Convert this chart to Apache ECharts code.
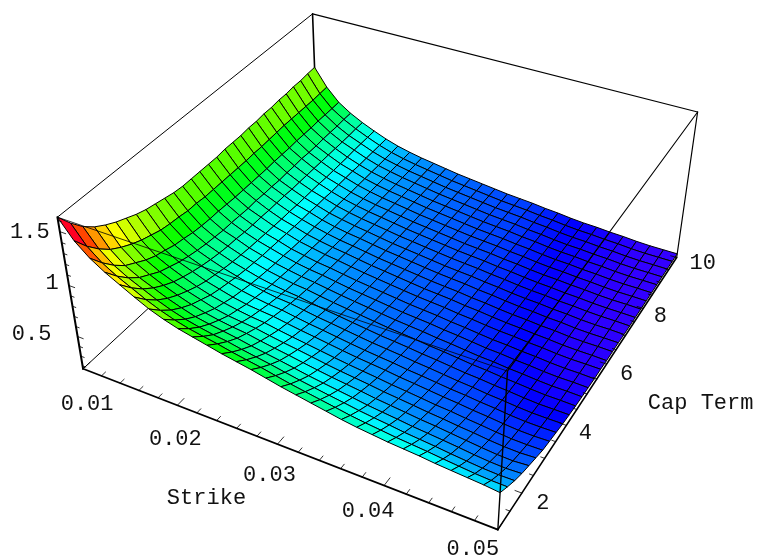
<!DOCTYPE html>
<html>
<head>
<meta charset="utf-8">
<style>html,body{margin:0;padding:0;background:#fff}#c{width:761px;height:558px}</style>
<script src="https://cdn.jsdelivr.net/npm/echarts@6/dist/echarts.min.js"></script>
</head>
<body>
<div id="c"></div>
<script>
const strikes = [.01,.01138,.01276,.01414,.01552,.0169,.01828,.01966,.02103,.02241,.02379,.02517,.02655,.02793,.02931,.03069,.03207,.03345,.03483,.03621,.03759,.03897,.04034,.04172,.0431,.04448,.04586,.04724,.04862,.05];
const terms = [1,1.31,1.62,1.93,2.24,2.55,2.86,3.17,3.48,3.79,4.1,4.41,4.72,5.03,5.34,5.66,5.97,6.28,6.59,6.9,7.21,7.52,7.83,8.14,8.45,8.76,9.07,9.38,9.69,10];
// one row per strike, one value per term
const surface = [
[1.63,1.50,1.39,1.31,1.25,1.20,1.16,1.12,1.09,1.07,1.05,1.03,1.02,1.02,1.02,1.02,1.02,1.03,1.03,1.03,1.04,1.04,1.05,1.05,1.06,1.06,1.07,1.07,1.08,1.085],
[1.46,1.33,1.225,1.14,1.08,1.03,.99,.96,.93,.915,.905,.89,.89,.88,.88,.88,.88,.88,.88,.885,.885,.89,.895,.90,.90,.90,.90,.90,.905,.91],
[1.345,1.22,1.115,1.03,.975,.92,.88,.855,.825,.81,.79,.78,.775,.775,.77,.765,.765,.765,.765,.765,.77,.77,.77,.775,.775,.775,.78,.78,.78,.783],
[1.26,1.14,1.04,.96,.905,.85,.815,.78,.755,.735,.72,.71,.70,.70,.695,.69,.695,.69,.69,.685,.69,.69,.695,.69,.69,.695,.695,.695,.70,.70],
[1.19,1.075,.98,.905,.845,.795,.76,.73,.705,.685,.67,.66,.655,.645,.64,.64,.635,.635,.635,.63,.63,.63,.63,.63,.63,.63,.63,.63,.635,.635],
[1.12,1.01,.92,.85,.795,.75,.71,.68,.66,.64,.625,.615,.605,.60,.595,.59,.585,.585,.58,.58,.58,.58,.575,.575,.575,.575,.58,.58,.58,.58],
[1.055,.955,.87,.805,.75,.71,.67,.645,.625,.605,.59,.58,.57,.565,.56,.555,.55,.545,.545,.54,.54,.535,.535,.535,.535,.53,.53,.53,.53,.53],
[1.005,.91,.83,.765,.715,.67,.64,.61,.59,.57,.555,.545,.535,.53,.52,.515,.51,.51,.505,.50,.50,.497,.495,.495,.493,.492,.49,.49,.49,.49],
[.965,.875,.80,.74,.69,.645,.615,.585,.565,.545,.53,.52,.51,.50,.495,.49,.483,.48,.475,.473,.47,.468,.466,.465,.463,.463,.462,.461,.46,.46],
[.935,.85,.775,.72,.67,.63,.595,.57,.545,.525,.51,.497,.487,.478,.47,.465,.46,.455,.452,.449,.446,.444,.441,.44,.439,.438,.437,.436,.435,.435],
[.905,.827,.758,.699,.655,.616,.582,.557,.533,.513,.496,.484,.471,.462,.454,.447,.442,.437,.435,.43,.427,.425,.422,.421,.42,.418,.417,.416,.415,.415],
[.875,.798,.731,.673,.63,.592,.558,.534,.51,.491,.474,.462,.45,.441,.433,.426,.421,.417,.414,.409,.407,.405,.402,.401,.40,.398,.397,.396,.395,.395],
[.85,.774,.708,.651,.608,.57,.537,.513,.489,.47,.453,.442,.43,.42,.413,.406,.401,.396,.394,.389,.387,.385,.382,.381,.38,.378,.377,.376,.375,.375],
[.825,.751,.686,.63,.588,.551,.518,.495,.472,.453,.437,.425,.413,.404,.397,.39,.386,.381,.379,.374,.372,.369,.367,.366,.365,.363,.362,.361,.36,.36],
[.795,.723,.66,.606,.565,.53,.498,.475,.453,.435,.419,.408,.397,.388,.381,.374,.37,.365,.363,.359,.356,.354,.352,.35,.35,.348,.347,.346,.345,.345],
[.765,.695,.635,.582,.543,.508,.478,.456,.434,.417,.402,.391,.38,.371,.365,.358,.354,.35,.347,.343,.341,.339,.337,.335,.334,.333,.332,.331,.33,.33],
[.74,.672,.613,.562,.523,.489,.46,.438,.417,.40,.385,.375,.364,.355,.349,.343,.338,.334,.332,.328,.326,.324,.321,.32,.319,.318,.317,.316,.315,.315],
[.715,.649,.592,.543,.506,.473,.444,.424,.403,.387,.373,.362,.352,.344,.338,.332,.328,.323,.321,.317,.315,.313,.311,.31,.309,.308,.307,.306,.305,.305],
[.69,.627,.572,.524,.489,.457,.429,.41,.39,.374,.36,.35,.34,.333,.327,.321,.317,.313,.311,.307,.305,.303,.301,.30,.299,.298,.297,.296,.295,.295],
[.665,.603,.55,.503,.469,.438,.411,.392,.372,.357,.344,.334,.324,.317,.311,.305,.301,.297,.295,.292,.29,.288,.286,.285,.284,.283,.282,.281,.28,.28],
[.645,.585,.533,.488,.454,.424,.398,.379,.36,.345,.332,.323,.313,.306,.30,.294,.291,.287,.285,.281,.279,.278,.276,.275,.274,.273,.272,.271,.27,.27],
[.63,.57,.518,.473,.439,.409,.383,.364,.345,.33,.317,.308,.298,.291,.285,.279,.276,.272,.27,.266,.264,.263,.261,.26,.259,.258,.257,.256,.255,.255],
[.615,.554,.50,.456,.423,.393,.367,.349,.33,.315,.302,.293,.284,.276,.271,.267,.264,.26,.258,.255,.253,.252,.25,.249,.248,.247,.246,.246,.245,.245],
[.605,.543,.488,.444,.412,.381,.357,.337,.32,.304,.293,.284,.277,.269,.264,.26,.256,.253,.251,.249,.247,.245,.244,.243,.243,.242,.241,.241,.24,.24],
[.595,.531,.475,.431,.396,.365,.341,.321,.305,.288,.279,.27,.263,.256,.252,.248,.245,.241,.239,.237,.235,.234,.234,.233,.232,.231,.231,.231,.23,.23],
[.58,.516,.459,.417,.381,.353,.328,.31,.294,.278,.269,.261,.255,.248,.245,.241,.237,.236,.234,.231,.23,.229,.228,.227,.227,.226,.226,.226,.225,.225],
[.57,.503,.446,.401,.366,.337,.313,.295,.279,.265,.256,.249,.243,.236,.233,.229,.226,.224,.222,.22,.22,.219,.218,.217,.217,.216,.216,.216,.215,.215],
[.56,.49,.434,.389,.354,.326,.301,.284,.27,.256,.247,.24,.235,.229,.226,.222,.221,.219,.217,.215,.215,.214,.213,.212,.212,.211,.211,.211,.21,.21],
[.55,.482,.428,.383,.349,.322,.298,.281,.268,.254,.246,.239,.234,.229,.225,.222,.22,.219,.217,.215,.214,.213,.213,.212,.212,.211,.211,.211,.21,.21],
[.535,.48,.43,.39,.36,.33,.30,.285,.27,.255,.245,.235,.23,.225,.22,.22,.215,.215,.215,.21,.21,.21,.21,.21,.21,.21,.21,.21,.21,.21]
];
const strikeTicks = [.01,.012,.014,.016,.018,.02,.022,.024,.026,.028,.03,.032,.034,.036,.038,.04,.042,.044,.046,.048,.05];
const termTicks = [1,1.5,2,2.5,3,3.5,4,4.5,5,5.5,6,6.5,7,7.5,8,8.5,9,9.5,10];
const zTicks = [.2,.3,.4,.5,.6,.7,.8,.9,1,1.1,1.2,1.3,1.4,1.5,1.6];
const strikeMajor = [.01,.02,.03,.04,.05];
const termMajor = [2,4,6,8,10];
const zMajor = [.5,1,1.5];

const S0=.01,S1=.05,T0=1,T1=10,Z0=.17,Z1=1.63;
// screen position of the eight box corners: [u,v,w,x,y]
const boxCorners = [
 [0,0,0,82,367],[1,0,0,498.3,530],[1,1,0,677,256],[0,1,0,318,154],
 [0,0,1,58.3,218],[1,0,1,507.3,372],[1,1,1,697,112.7],[0,1,1,312.5,12]
];
function solveCamera(){
  const M=[],b=[];
  boxCorners.forEach(c=>{const [u,v,w,x,y]=c;
    M.push([u,v,w,1,0,0,0,0,-x*u,-x*v,-x*w]);b.push(x);
    M.push([0,0,0,0,u,v,w,1,-y*u,-y*v,-y*w]);b.push(y);});
  const n=11,A=[];
  for(let r=0;r<n;r++){A.push([]);for(let c=0;c<=n;c++){let s=0;
    for(let k=0;k<M.length;k++)s+=M[k][r]*(c<n?M[k][c]:b[k]);A[r].push(s);}}
  for(let p=0;p<n;p++){let best=p;for(let r=p+1;r<n;r++)if(Math.abs(A[r][p])>Math.abs(A[best][p]))best=r;
    [A[p],A[best]]=[A[best],A[p]];
    for(let r=0;r<n;r++){if(r===p)continue;const f=A[r][p]/A[p][p];for(let c=p;c<=n;c++)A[r][c]-=f*A[p][c];}}
  return A.map((row,i)=>row[n]/row[i]);
}
const cam=solveCamera();
function proj(u,v,w){const d=cam[8]*u+cam[9]*v+cam[10]*w+1;
  return [(cam[0]*u+cam[1]*v+cam[2]*w+cam[3])/d,(cam[4]*u+cam[5]*v+cam[6]*w+cam[7])/d];}
function at(s,t,z){return proj((s-S0)/(S1-S0),(t-T0)/(T1-T0),(z-Z0)/(Z1-Z0));}
// colour stops: surface height -> hue (0..1)
const hueHeights=[.21,.30,.45,1.44,1.5];
const hueValues=[.70,.625,.564,0,-.034];
function cellColor(m){
  let h=hueValues[0];
  for(let k=0;k<hueHeights.length-1;k++){
    if(m>=hueHeights[k]) h=hueValues[k]+(hueValues[k+1]-hueValues[k])*(m-hueHeights[k])/(hueHeights[k+1]-hueHeights[k]);
  }
  return 'hsl('+((h+1)%1*360).toFixed(1)+',100%,50%)';
}

const cells=[];
for(let i=0;i<strikes.length-1;i++)for(let j=terms.length-2;j>=0;j--)
  cells.push([i,j,(surface[i][j]+surface[i+1][j]+surface[i+1][j+1]+surface[i][j+1])/4]);

function edge(a,b,width){return {a,b,width};}
const backEdges=[
 edge([S0,T1,Z0],[S0,T1,Z1],1.6),edge([S0,T0,Z0],[S0,T1,Z0],1),edge([S0,T1,Z0],[S1,T1,Z0],1),
 edge([S1,T1,Z0],[S1,T1,Z1],1.2),edge([S0,T0,Z1],[S0,T1,Z1],1),edge([S0,T1,Z1],[S1,T1,Z1],1.2)
];
const frontEdges=[
 edge([S0,T0,Z1],[S1,T0,Z1],.8),edge([S1,T0,Z1],[S1,T1,Z1],1.1),edge([S1,T0,Z0],[S1,T0,Z1],1.4),
 edge([S0,T0,Z0],[S0,T0,Z1],2),edge([S0,T0,Z0],[S1,T0,Z0],1.8),edge([S1,T0,Z0],[S1,T1,Z0],1.6)
];
const tickEdges=[];
strikeTicks.forEach(s=>tickEdges.push(edge([s,T0,Z0],[s,T0+(strikeMajor.includes(s)?.22:.13),Z0],.8)));
termTicks.forEach(t=>tickEdges.push(edge([S1,t,Z0],[S1-(termMajor.includes(t)?.0006:.00035),t,Z0],.8)));
zTicks.forEach(z=>tickEdges.push(edge([S0,T0,z],[S0+(zMajor.includes(z)?.0006:.00035),T0,z],.8)));

const labels=[];
[[4,35],[-2,34],[-8,31],[-16,26],[-25,19]].forEach((o,k)=>labels.push({text:strikeMajor[k].toFixed(2),p:[strikeMajor[k],T0,Z0],o}));
[[21,10],[19,8],[20,10],[17,8],[26,6]].forEach((o,k)=>labels.push({text:String(termMajor[k]),p:[S1,termMajor[k],Z0],o}));
[[-46,-2],[-17,-2],[-30,0]].forEach((o,k)=>labels.push({text:String(zMajor[k]),p:[S0,T0,zMajor[k]],o}));
labels.push({text:'Strike',p:[.03,T0,Z0],o:[-71,54]});
labels.push({text:'Cap Term',p:[S1,6,Z0],o:[94,39]});

function lineSeries(list,z){
  return {type:'custom',coordinateSystem:'cartesian2d',silent:true,clip:false,z,animation:false,
    data:list.map((e,k)=>[k,0]),
    renderItem(params,api){const e=list[params.dataIndex];
      const a=api.coord(at(...e.a)),b=api.coord(at(...e.b));
      return {type:'line',shape:{x1:a[0],y1:a[1],x2:b[0],y2:b[1]},style:{stroke:'#000',lineWidth:e.width,lineCap:'round'}};}};
}
const chart=echarts.init(document.getElementById('c'),null,{renderer:'canvas'});
chart.setOption({
  animation:false,
  backgroundColor:'#fff',
  grid:{left:0,right:0,top:0,bottom:0},
  xAxis:{type:'value',min:0,max:761,show:false},
  yAxis:{type:'value',min:0,max:558,inverse:true,show:false},
  series:[
    lineSeries(backEdges,1),
    {type:'custom',coordinateSystem:'cartesian2d',silent:true,clip:false,z:2,animation:false,
      data:cells,
      renderItem(params,api){
        const i=api.value(0),j=api.value(1);
        const pts=[[i,j],[i+1,j],[i+1,j+1],[i,j+1]].map(q=>api.coord(at(strikes[q[0]],terms[q[1]],surface[q[0]][q[1]])));
        return {type:'polygon',shape:{points:pts},style:{fill:cellColor(api.value(2)),stroke:'#000',lineWidth:1}};
      }},
    lineSeries(frontEdges,3),
    lineSeries(tickEdges,3),
    {type:'custom',coordinateSystem:'cartesian2d',silent:true,clip:false,z:4,animation:false,
      data:labels.map((l,k)=>[k,0]),
      renderItem(params,api){const l=labels[params.dataIndex];const c=api.coord(at(...l.p));
        return {type:'text',x:c[0]+l.o[0],y:c[1]+l.o[1],
          style:{text:l.text,fill:'#111',font:'22px "Liberation Mono"',align:'center',verticalAlign:'middle'}};}}
  ]
});
</script>
</body>
</html>
